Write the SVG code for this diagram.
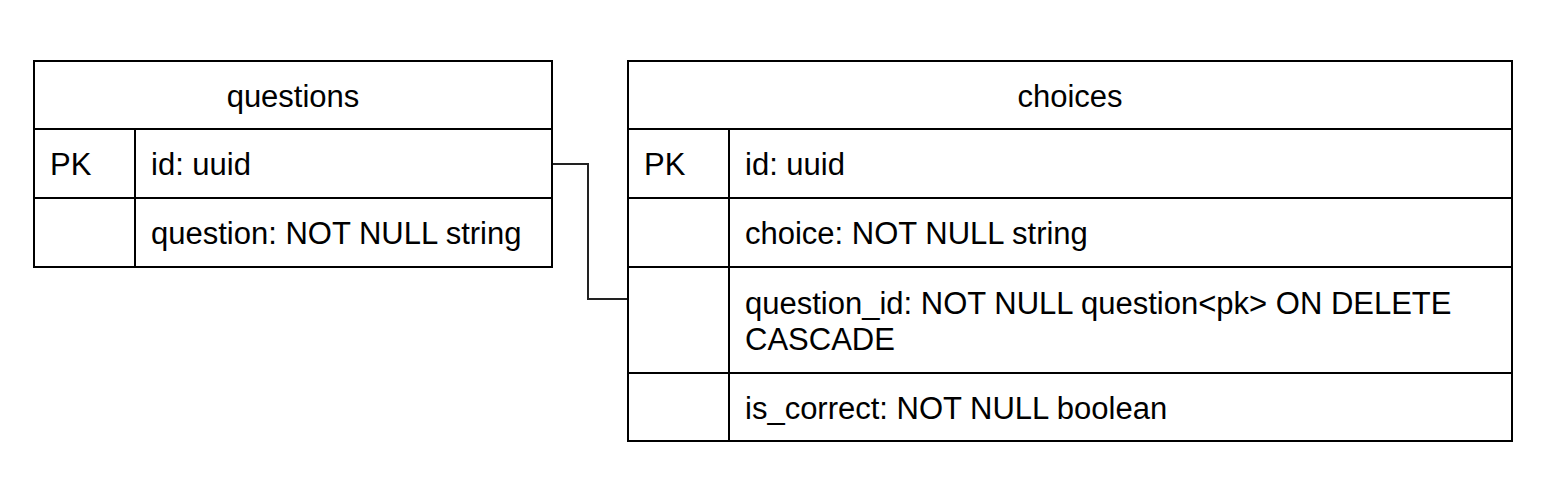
<svg xmlns="http://www.w3.org/2000/svg" width="1550" height="484" viewBox="0 0 1550 484">
<style>
.box{fill:#fff;stroke:#000;stroke-width:2}
.ln{stroke:#000;stroke-width:2;fill:none}
.conn{stroke:#222;stroke-width:2;fill:none}
text{font-family:"Liberation Sans",Arial,sans-serif;font-size:31px;fill:#000}
.h{text-anchor:middle}
</style>
<rect width="1550" height="484" fill="#fff"/>
<g id="connectors">
<path class="conn" d="M552 164 H588 V299 H628"/>
</g>
<g id="questions">
<rect class="box" x="34" y="61" width="518" height="206"/>
<line class="ln" x1="34" y1="129" x2="552" y2="129"/>
<line class="ln" x1="34" y1="198" x2="552" y2="198"/>
<line class="ln" x1="135" y1="129" x2="135" y2="267"/>
<text class="h" x="293" y="107">questions</text>
<text x="50" y="175">PK</text>
<text x="151" y="175">id: uuid</text>
<text x="151" y="244">question: NOT NULL string</text>
</g>
<g id="choices">
<rect class="box" x="628" y="61" width="884" height="380"/>
<line class="ln" x1="628" y1="129" x2="1512" y2="129"/>
<line class="ln" x1="628" y1="198" x2="1512" y2="198"/>
<line class="ln" x1="628" y1="267" x2="1512" y2="267"/>
<line class="ln" x1="628" y1="373" x2="1512" y2="373"/>
<line class="ln" x1="729" y1="129" x2="729" y2="441"/>
<text class="h" x="1070" y="107">choices</text>
<text x="644" y="175">PK</text>
<text x="745" y="175">id: uuid</text>
<text x="745" y="244">choice: NOT NULL string</text>
<text x="745" y="314">question_id: NOT NULL question&lt;pk&gt; ON DELETE</text>
<text x="745" y="350">CASCADE</text>
<text x="745" y="419">is_correct: NOT NULL boolean</text>
</g>
</svg>
